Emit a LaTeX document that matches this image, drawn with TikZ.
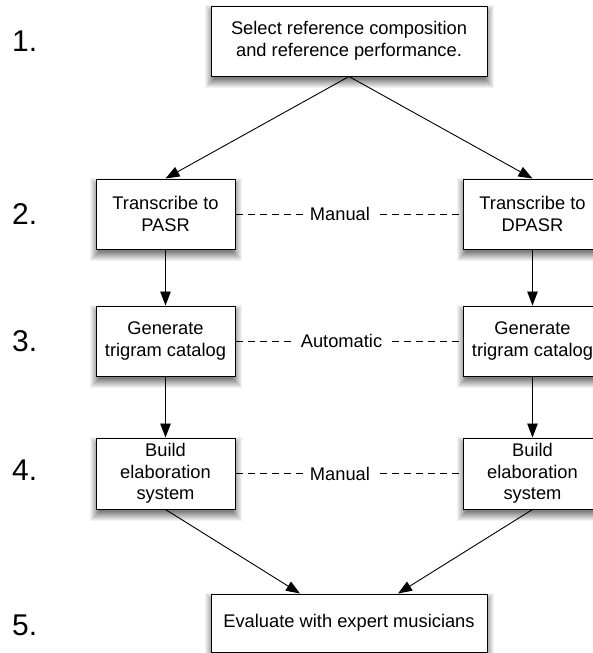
\documentclass[tikz,border=0pt]{standalone}
\usepackage{fontspec}
\setmainfont{Liberation Sans}
\usetikzlibrary{arrows.meta,backgrounds,calc}
\newcommand{\boxfont}{\fontsize{18.3pt}{21.5pt}\selectfont}
\begin{document}
\begin{tikzpicture}[x=1pt,y=-1pt,
  box/.style={draw, line width=1pt, fill=white, align=center, font=\boxfont, inner sep=0pt},
  smallbox/.style={box, minimum width=139pt, minimum height=70pt},
  widebox/.style={box, minimum width=276pt, minimum height=70pt},
  arr/.style={-{Triangle[length=14pt,width=10.5pt]}, line width=0.9pt},
  dashline/.style={dash pattern=on 7pt off 5pt, line width=0.9pt},
  lbl/.style={fill=white, font=\boxfont, inner xsep=6pt, inner ysep=2pt},
  num/.style={font=\fontsize{30pt}{36pt}\selectfont, anchor=west, inner sep=0pt}]
\useasboundingbox (0,0) rectangle (593,653);
\clip (0,0) rectangle (593,653);
% row numbers
\node[num] (n1) at (12,41) {1.};
\node[num] (n2) at (12,214) {2.};
\node[num] (n3) at (12,341) {3.};
\node[num] (n4) at (12,470) {4.};
\node[num] (n5) at (12,625) {5.};
% boxes
\node[widebox] (top) at (349,41) {Select reference composition\\and reference performance.};
\node[smallbox] (l2) at (165.5,214) {Transcribe to\\PASR};
\node[smallbox] (r2) at (532.5,214) {Transcribe to\\DPASR};
\node[smallbox] (l3) at (165.5,341) {Generate\\trigram catalog};
\node[smallbox] (r3) at (532.5,341) {Generate\\trigram catalog};
\node[smallbox, minimum height=71pt] (l4) at (165.5,473.5) {Build\\elaboration\\system};
\node[smallbox, minimum height=71pt] (r4) at (532.5,473.5) {Build\\elaboration\\system};
\node[widebox, minimum height=58pt] (eval) at (349,623) {Evaluate with expert musicians};
\coordinate (evl) at ([xshift=-49pt]eval.north);
\coordinate (evr) at ([xshift=49pt]eval.north);
% soft drop shadows
\begin{scope}[on background layer]
\foreach \bx in {top,l2,r2,l3,r3,l4,r4,eval}{
  \foreach \k in {9,8,...,0}{
    \pgfmathtruncatemacro\shp{5*(10-\k)}
    \pgfmathtruncatemacro\shd{\k-3}
    \fill[black!\shp] ([shift={(-\shd,5+\shd)}]\bx.south west) rectangle ([shift={(\shd,5-\shd)}]\bx.north east);
  }
}
\end{scope}
% arrows
\draw[arr] (top.south) -- (l2.north);
\draw[arr] (top.south) -- (r2.north);
\draw[arr] (l2.south) -- (l3.north);
\draw[arr] (r2.south) -- (r3.north);
\draw[arr] (l3.south) -- (l4.north);
\draw[arr] (r3.south) -- (r4.north);
\draw[arr] (l4.south) -- (evl);
\draw[arr] (r4.south) -- (evr);
% dashed relations
\draw[dashline] (l2.east) -- node[lbl, pos=0.46] (m1) {Manual} (r2.west);
\draw[dashline] (l3.east) -- node[lbl, pos=0.467] (m2) {Automatic} (r3.west);
\draw[dashline] (l4.east) -- node[lbl, pos=0.46] (m3) {Manual} (r4.west);
\end{tikzpicture}
\end{document}
